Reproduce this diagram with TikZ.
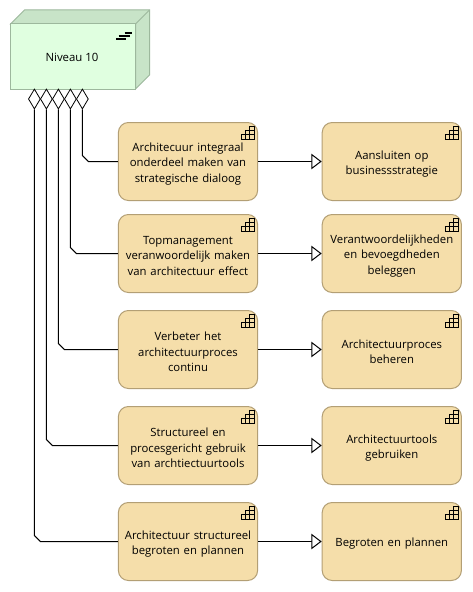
\documentclass[tikz,border=0pt]{standalone}
\usepackage{fontspec}
\setmainfont{Open Sans}
\usetikzlibrary{arrows.meta,shapes.geometric,calc}
\definecolor{boxfill}{HTML}{F5DEAA}
\definecolor{boxline}{HTML}{B39F75}
\definecolor{gfront}{HTML}{E0FFE0}
\definecolor{gside}{HTML}{C8E4C8}
\definecolor{gline}{HTML}{9DB89D}
\tikzset{
  x=0.75pt,y=-0.75pt,
  goal/.style={draw=boxline,fill=boxfill,rounded corners=7.5pt,minimum width=104.4pt,minimum height=58.5pt,inner sep=0pt,line width=0.75pt},
  goaltext/.style={inner sep=0pt,text width=104pt,align=center,yshift=-1.8pt,font=\fontsize{8.5}{11.6}\selectfont},
  dia/.style={diamond,aspect=0.6,draw=black,fill=white,minimum width=9pt,minimum height=15pt,inner sep=0pt,line width=0.6pt},
  link/.style={draw=black,line width=0.75pt},
  realize/.style={draw=black,line width=0.75pt,-{Triangle[open,fill=white,length=7.7pt,width=11.5pt]}},
  icon/.style={draw=black,line width=0.55pt}
}
\newcommand{\stairicon}[1]{%
  \begin{scope}[shift={(#1.north east)}]
    \draw[icon] (-17,17)--(-17,12.7)--(-12.7,12.7)--(-12.7,8.3)--(-8.3,8.3)--(-8.3,4)--(-4,4)--(-4,17)--cycle;
    \draw[icon] (-17,12.7)--(-4,12.7) (-12.7,8.3)--(-4,8.3) (-12.7,12.7)--(-12.7,17) (-8.3,8.3)--(-8.3,17);
  \end{scope}}
\begin{document}
\begin{tikzpicture}
\useasboundingbox (0,0) rectangle (472,592);
\fill[white] (0,0) rectangle (472,592);
% green block
\draw[draw=gline,fill=gside,line width=0.75pt] (10.5,24)--(24.5,10)--(149.5,10)--(149.5,75)--(135.5,89)--(135.5,24)--cycle;
\node[draw=gline,fill=gfront,line width=0.75pt,minimum width=93.75pt,minimum height=48.75pt,inner sep=0pt] (n10) at (73,56.5) {};
\node[inner sep=0pt,font=\fontsize{8.55}{12}\selectfont] (n10t) at (72,57) {Niveau 10};
\draw[gline,line width=0.75pt] (135.5,24)--(149.5,10);
\draw[black,line width=1.4pt] (124.7,32.7)--(132,32.7) (118.7,35.7)--(129.7,35.7) (116.3,38.7)--(126,38.7);
% left goals
\node[goal] (a1) at (188,161.5) {};
\node[goaltext] (a1t) at (a1) {Architecuur integraal\\onderdeel maken van\\strategische dialoog};
\node[goal] (a2) at (188,253.5) {};
\node[goaltext] (a2t) at (a2) {Topmanagement\\veranwoordelijk maken\\van architectuur effect};
\node[goal] (a3) at (188,349.5) {};
\node[goaltext] (a3t) at (a3) {Verbeter het\\architectuurproces\\continu};
\node[goal] (a4) at (188,445.5) {};
\node[goaltext] (a4t) at (a4) {Structureel en\\procesgericht gebruik\\van archtiectuurtools};
\node[goal] (a5) at (188,541.5) {};
\node[goaltext] (a5t) at (a5) {Architectuur structureel\\begroten en plannen};
% right goals
\node[goal] (b1) at (391.8,161.5) {};
\node[goaltext] (b1t) at (b1) {Aansluiten op\\businessstrategie};
\node[goal] (b2) at (391.8,253.5) {};
\node[goaltext] (b2t) at (b2) {Verantwoordelijkheden\\en bevoegdheden\\beleggen};
\node[goal] (b3) at (391.8,349.5) {};
\node[goaltext] (b3t) at (b3) {Architectuurproces\\beheren};
\node[goal] (b4) at (391.8,445.5) {};
\node[goaltext] (b4t) at (b4) {Architectuurtools\\gebruiken};
\node[goal] (b5) at (391.8,541.5) {};
\node[goaltext] (b5t) at (b5) {Begroten en plannen};
\foreach \n in {a1,a2,a3,a4,a5,b1,b2,b3,b4,b5}{\stairicon{\n}}
% diamonds
\node[dia] (d5) at (34.4,99) {};
\node[dia] (d4) at (46.4,99) {};
\node[dia] (d3) at (58.4,99) {};
\node[dia] (d2) at (70.4,99) {};
\node[dia] (d1) at (82.4,99) {};
% connectors
\foreach \i in {1,...,5}{
  \draw[link] (d\i.south) -- ($(d\i.south |- a\i.west)+(0,-6)$) -- ($(d\i.south |- a\i.west)+(6,0)$) -- (a\i.west);
  \draw[realize] (a\i.east) -- (b\i.west);
}
\end{tikzpicture}
\end{document}
